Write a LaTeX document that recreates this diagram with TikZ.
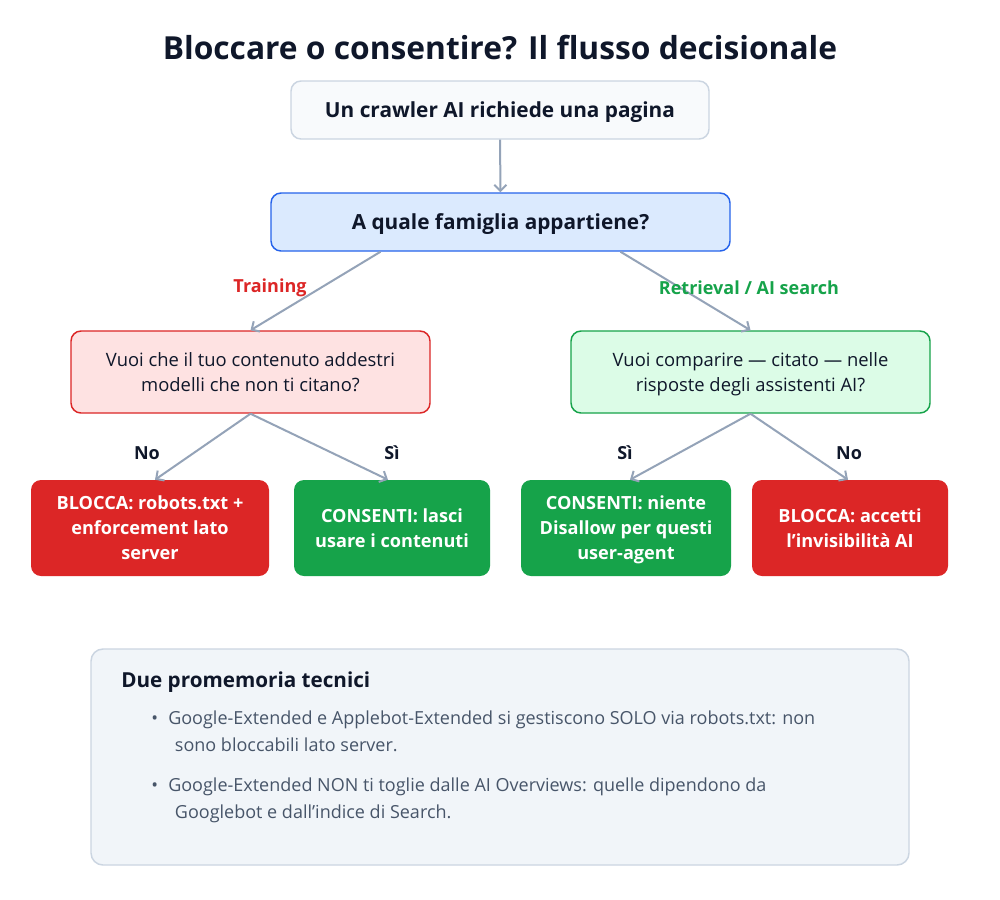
\documentclass[tikz,border=0pt]{standalone}
\usepackage{fontspec}
\setmainfont{Open Sans}
\usepackage{tikz}
\usetikzlibrary{arrows.meta}
\definecolor{navy}{HTML}{0F172A}
\definecolor{slateline}{HTML}{CBD5E1}
\definecolor{startfill}{HTML}{F8FAFC}
\definecolor{blueline}{HTML}{2563EB}
\definecolor{bluefill}{HTML}{DBEAFE}
\definecolor{redline}{HTML}{DC2626}
\definecolor{redfill}{HTML}{FEE2E2}
\definecolor{greenline}{HTML}{16A34A}
\definecolor{greenfill}{HTML}{DCFCE7}
\definecolor{arrowgray}{HTML}{94A3B8}
\definecolor{notefill}{HTML}{F1F5F9}
\definecolor{notetext}{HTML}{475569}

\begin{document}
\begin{tikzpicture}[x=0.75pt,y=-0.75pt,
    box/.style={draw, rounded corners=7.5pt, line width=1.1pt, align=center, text=navy, inner sep=0pt, text depth=0pt},
    leaf/.style={rounded corners=7.5pt, align=center, text=white, inner sep=0pt, text depth=0pt,
        font=\fontsize{13.6pt}{18.75pt}\selectfont\bfseries, minimum height=72pt},
    flow/.style={draw=arrowgray, line width=1.5pt, -{Straight Barb[length=4.5pt,width=9pt]}},
    lbl/.style={font=\fontsize{13.5pt}{16pt}\selectfont\bfseries}]
    \fill[white] (0,0) rectangle (1000,900);
    \useasboundingbox (0,0) rectangle (1000,900);
    \node[text=navy, font=\fontsize{23.8pt}{28pt}\selectfont\bfseries] (title) at (500,48) {Bloccare o consentire? Il flusso decisionale};
    \node[box, draw=slateline, fill=startfill, minimum width=313.5pt, minimum height=43.5pt,
        font=\fontsize{15.6pt}{18pt}\selectfont\bfseries] (crawler) at (500,110) {Un crawler AI richiede una pagina};
    \node[box, draw=blueline, fill=bluefill, minimum width=344.25pt, minimum height=43.5pt,
        font=\fontsize{15.6pt}{18pt}\selectfont\bfseries] (family) at (500.5,222) {A quale famiglia appartiene?};
    \node[box, draw=redline, fill=redfill, minimum width=269.25pt, minimum height=61.5pt,
        font=\fontsize{13.8pt}{18.75pt}\selectfont] (qtrain) at (250.5,372) {Vuoi che il tuo contenuto addestri\\modelli che non ti citano?};
    \node[box, draw=greenline, fill=greenfill, minimum width=269.25pt, minimum height=61.5pt,
        font=\fontsize{13.8pt}{18.75pt}\selectfont] (qsearch) at (750.5,372) {Vuoi comparire --- citato --- nelle\\risposte degli assistenti AI?};
    \node[leaf, fill=redline, minimum width=178.5pt] (blocktrain) at (150,528) {BLOCCA: robots.txt +\\enforcement lato\\server};
    \node[leaf, fill=greenline, minimum width=147pt] (allowtrain) at (392,528) {CONSENTI: lasci\\usare i contenuti};
    \node[leaf, fill=greenline, minimum width=157.5pt] (allowsearch) at (626,528) {CONSENTI: niente\\Disallow per questi\\user-agent};
    \node[leaf, fill=redline, minimum width=147pt] (blocksearch) at (850,528) {BLOCCA: accetti\\l’invisibilità AI};
    \draw[flow] (crawler) -- (family);
    \draw[flow] ([xshift=-90pt]family.south) -- (qtrain.north);
    \draw[flow] ([xshift=90pt]family.south) -- (qsearch.north);
    \draw[flow] (qtrain.south) -- ([xshift=3.75pt]blocktrain.north);
    \draw[flow] (qtrain.south) -- ([xshift=-3pt]allowtrain.north);
    \draw[flow] (qsearch.south) -- ([xshift=3pt]allowsearch.north);
    \draw[flow] (qsearch.south) -- ([xshift=-1.5pt]blocksearch.north);
    \node[lbl, text=redline] (ltrain) at (270,288) {Training};
    \node[lbl, text=greenline] (lsearch) at (749,288) {Retrieval / AI search};
    \node[lbl, text=navy] (lno1) at (147,453) {No};
    \node[lbl, text=navy] (lsi1) at (392,453) {Sì};
    \node[lbl, text=navy] (lsi2) at (625,453) {Sì};
    \node[lbl, text=navy] (lno2) at (849,453) {No};
    % promemoria
    \node[draw=slateline, fill=notefill, line width=1.1pt, rounded corners=9pt,
        minimum width=613.5pt, minimum height=162pt] (notes) at (500,757) {};
    \node[anchor=base west, inner sep=0pt, text=navy, font=\fontsize{15.5pt}{18pt}\selectfont\bfseries] (notetitle) at (121,687) {Due promemoria tecnici};
    \node[anchor=base west, inner sep=0pt, text=notetext, font=\fontsize{13.5pt}{16pt}\selectfont] (dot1) at (151,724) {•};
    \node[anchor=base west, text=notetext, font=\fontsize{13.5pt}{20.25pt}\selectfont, align=left, inner sep=0pt] (tip1) at (168,751)
        {Google-Extended e Applebot-Extended si gestiscono SOLO via robots.txt: non\\\hspace{5pt}sono bloccabili lato server.};
    \node[anchor=base west, inner sep=0pt, text=notetext, font=\fontsize{13.5pt}{16pt}\selectfont] (dot2) at (151,791) {•};
    \node[anchor=base west, text=notetext, font=\fontsize{13.5pt}{20.25pt}\selectfont, align=left, inner sep=0pt] (tip2) at (168,818)
        {Google-Extended NON ti toglie dalle AI Overviews: quelle dipendono da\\\hspace{5pt}Googlebot e dall’indice di Search.};
\end{tikzpicture}
\end{document}
